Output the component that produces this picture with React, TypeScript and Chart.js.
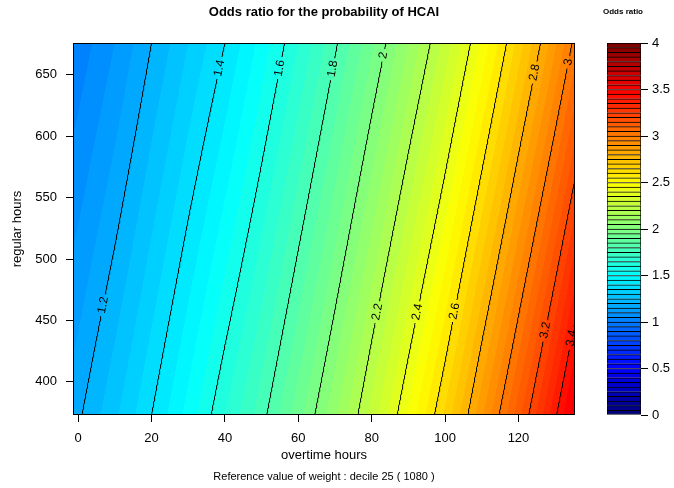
import React, { useEffect, useRef } from "react";
import { Chart, registerables } from "chart.js";

Chart.register(...registerables);

// ---------------- data ----------------
// grid of odds ratios: columns = overtime hours, rows = regular hours
const overtimeHours = [-1.4, 0, 10, 20, 30, 40, 50, 60, 70, 80, 90, 100, 110, 120, 130, 135.4];
const regularHours = [373, 676];
const oddsAtRegular373 = [1.18, 1.19, 1.29, 1.4, 1.52, 1.65, 1.78, 1.93, 2.09, 2.27, 2.46, 2.66, 2.89, 3.13, 3.39, 3.54];
const oddsAtRegular676 = [1.01, 1.02, 1.1, 1.2, 1.3, 1.4, 1.52, 1.65, 1.79, 1.94, 2.1, 2.27, 2.46, 2.67, 2.89, 3.02];
const contourLevels = [1.2, 1.4, 1.6, 1.8, 2, 2.2, 2.4, 2.6, 2.8, 3, 3.2, 3.4];
const overtimeTicks = [0, 20, 40, 60, 80, 100, 120];
const regularTicks = [400, 450, 500, 550, 600, 650];
const colorbarTicks = [0, 0.5, 1, 1.5, 2, 2.5, 3, 3.5, 4];
const breakMin = 0;
const breakMax = 4;
const breakStep = 0.05;

const titleText = "Odds ratio for the probability of HCAI";
const subText = "Reference value of weight : decile 25 ( 1080 )";
const xTitle = "overtime hours";
const yTitle = "regular hours";
const legendTitle = "Odds ratio";

// ---------------- styling / layout ----------------
const FONT = '"Liberation Sans", Arial, Helvetica, sans-serif';
const JET = ["#00007F", "#0000FF", "#007FFF", "#00FFFF", "#7FFF7F", "#FFFF00", "#FF7F00", "#FF0000", "#7F0000"];
// regular-hours position of each contour label along its line
const contourLabelAt: Record<string, number> = {
  "1.2": 462.5, "1.4": 655.5, "1.6": 655.5, "1.8": 655, "2": 666, "2.2": 457,
  "2.4": 457, "2.6": 457.5, "2.8": 652, "3": 660.5, "3.2": 442, "3.4": 435.5,
};

function hexRgb(h: string): number[] {
  return [parseInt(h.slice(1, 3), 16), parseInt(h.slice(3, 5), 16), parseInt(h.slice(5, 7), 16)];
}
const JET_RGB = JET.map(hexRgb);
function ramp(t: number): number[] {
  const n = JET_RGB.length;
  const p = Math.max(0, Math.min(1, t)) * (n - 1);
  const i = Math.min(n - 2, Math.floor(p));
  const f = p - i;
  return [0, 1, 2].map((k) => Math.round(JET_RGB[i][k] * (1 - f) + JET_RGB[i + 1][k] * f));
}
const nBands = Math.round((breakMax - breakMin) / breakStep);
const bandRgb = Array.from({ length: nBands }, (_, i) => ramp(i / (nBands - 1)));
const bandCss = bandRgb.map((c) => `rgb(${c[0]},${c[1]},${c[2]})`);

const lnRows = [oddsAtRegular373.map(Math.log), oddsAtRegular676.map(Math.log)];

function lnAlong(row: number[], x: number): number {
  const xs = overtimeHours;
  let j = 0;
  while (j < xs.length - 2 && x > xs[j + 1]) j++;
  const f = (x - xs[j]) / (xs[j + 1] - xs[j]);
  return row[j] * (1 - f) + row[j + 1] * f;
}
function rowWeight(y: number): number {
  return (y - regularHours[0]) / (regularHours[1] - regularHours[0]);
}
function contourX(level: number, y: number): number | null {
  const L = Math.log(level);
  const t = rowWeight(y);
  const xs = overtimeHours;
  const row = xs.map((_, j) => lnRows[0][j] * (1 - t) + lnRows[1][j] * t);
  for (let j = 0; j < xs.length - 1; j++) {
    if (row[j] <= L && row[j + 1] >= L && row[j + 1] !== row[j]) {
      return xs[j] + ((L - row[j]) / (row[j + 1] - row[j])) * (xs[j + 1] - xs[j]);
    }
  }
  return null;
}

const LABEL_FONT = `12px ${FONT}`;

const fieldPlugin = {
  id: "oddsField",
  beforeDatasetsDraw(chart: any) {
    const { ctx, chartArea } = chart;
    const xs = chart.scales.x;
    const ys = chart.scales.y;
    const left = Math.round(chartArea.left);
    const top = Math.round(chartArea.top);
    const w = Math.round(chartArea.right) - left;
    const h = Math.round(chartArea.bottom) - top;
    const off = document.createElement("canvas");
    off.width = w;
    off.height = h;
    const octx = off.getContext("2d")!;
    const img = octx.createImageData(w, h);
    const a0: number[] = [];
    const a1: number[] = [];
    for (let c = 0; c < w; c++) {
      const xv = xs.getValueForPixel(left + c + 0.5);
      a0.push(lnAlong(lnRows[0], xv));
      a1.push(lnAlong(lnRows[1], xv));
    }
    for (let r = 0; r < h; r++) {
      const t = rowWeight(ys.getValueForPixel(top + r + 0.5));
      for (let c = 0; c < w; c++) {
        const v = Math.exp(a0[c] * (1 - t) + a1[c] * t);
        let b = Math.floor((v - breakMin) / breakStep);
        b = Math.max(0, Math.min(nBands - 1, b));
        const col = bandRgb[b];
        const k = (r * w + c) * 4;
        img.data[k] = col[0];
        img.data[k + 1] = col[1];
        img.data[k + 2] = col[2];
        img.data[k + 3] = 255;
      }
    }
    octx.putImageData(img, 0, 0);
    ctx.save();
    ctx.drawImage(off, left, top);
    ctx.restore();
  },
  afterDatasetsDraw(chart: any) {
    const { ctx, chartArea } = chart;
    const xs = chart.scales.x;
    const ys = chart.scales.y;
    ctx.save();
    ctx.beginPath();
    ctx.rect(chartArea.left, chartArea.top, chartArea.right - chartArea.left, chartArea.bottom - chartArea.top);
    ctx.clip();
    ctx.font = LABEL_FONT;
    ctx.fillStyle = "#000";
    ctx.textAlign = "center";
    ctx.textBaseline = "middle";
    contourLevels.forEach((lvl) => {
      const ly = contourLabelAt[String(lvl)];
      if (ly == null) return;
      const lx = contourX(lvl, ly);
      if (lx == null) return;
      const px = xs.getPixelForValue(lx);
      const py = ys.getPixelForValue(ly);
      let ang = -79 * Math.PI / 180;
      const xa = contourX(lvl, ly - 3);
      const xb = contourX(lvl, ly + 3);
      if (xa != null && xb != null) {
        ang = Math.atan2(ys.getPixelForValue(ly + 3) - ys.getPixelForValue(ly - 3), xs.getPixelForValue(xb) - xs.getPixelForValue(xa));
      }
      ctx.save();
      ctx.translate(px, py);
      ctx.rotate(ang);
      ctx.fillText(String(lvl), 0, 0);
      ctx.restore();
    });
    ctx.restore();
    ctx.save();
    ctx.strokeStyle = "#000";
    ctx.lineWidth = 1;
    ctx.strokeRect(Math.round(chartArea.left) + 0.5, Math.round(chartArea.top) + 0.5,
      Math.round(chartArea.right) - Math.round(chartArea.left) - 1, Math.round(chartArea.bottom) - Math.round(chartArea.top) - 1);
    ctx.restore();
  },
  afterDraw(chart: any) {
    const { ctx } = chart;
    ctx.save();
    ctx.fillStyle = "#000";
    ctx.textAlign = "center";
    ctx.textBaseline = "middle";
    ctx.font = `bold 13px ${FONT}`;
    ctx.fillText(titleText, 324, 12);
    ctx.font = `11px ${FONT}`;
    ctx.fillText(subText, 324, 477);
    ctx.restore();
  },
};

const legendTextPlugin = {
  id: "legendText",
  afterDraw(chart: any) {
    const { ctx } = chart;
    ctx.save();
    ctx.fillStyle = "#000";
    ctx.textAlign = "center";
    ctx.textBaseline = "middle";
    ctx.font = `bold 8px ${FONT}`;
    ctx.fillText(legendTitle, 33, 12);
    ctx.restore();
  },
};

function gapColor(sctx: any, levelIndex: number): string {
  const lvl = contourLevels[levelIndex];
  const ly = contourLabelAt[String(lvl)];
  const ch = sctx.chart;
  if (ly == null || !ch) return "#000";
  const lx = contourX(lvl, ly);
  if (lx == null) return "#000";
  const cx = ch.scales.x.getPixelForValue(lx);
  const cy = ch.scales.y.getPixelForValue(ly);
  const mx = (sctx.p0.x + sctx.p1.x) / 2;
  const my = (sctx.p0.y + sctx.p1.y) / 2;
  ch.ctx.save();
  ch.ctx.font = LABEL_FONT;
  const half = ch.ctx.measureText(String(lvl)).width / 2 + 3;
  ch.ctx.restore();
  return Math.hypot(mx - cx, my - cy) < half ? "rgba(0,0,0,0)" : "#000";
}

export default function App() {
  const mainRef = useRef<HTMLCanvasElement>(null);
  const barRef = useRef<HTMLCanvasElement>(null);

  useEffect(() => {
    Chart.defaults.font.family = FONT;
    Chart.defaults.color = "#000";
    const y0 = regularHours[0];
    const y1 = regularHours[regularHours.length - 1];
    const samples = 320;
    const datasets = contourLevels.map((lvl, li) => {
      const pts: { x: number; y: number }[] = [];
      for (let s = 0; s <= samples; s++) {
        const y = y0 + ((y1 - y0) * s) / samples;
        const x = contourX(lvl, y);
        if (x != null) pts.push({ x, y });
      }
      return {
        type: "line" as const,
        label: String(lvl),
        data: pts,
        showLine: true,
        borderColor: "#000",
        borderWidth: 1,
        pointRadius: 0,
        tension: 0,
        segment: { borderColor: (sctx: any) => gapColor(sctx, li) },
      };
    });

    const main = new Chart(mainRef.current!, {
      type: "scatter",
      data: { datasets: datasets as any },
      options: {
        animation: false,
        responsive: false,
        devicePixelRatio: 1,
        events: [],
        layout: { padding: { left: 0, right: 73, top: 43, bottom: 0 } },
        plugins: { legend: { display: false }, tooltip: { enabled: false }, title: { display: false } },
        scales: {
          x: {
            type: "linear",
            min: overtimeHours[0],
            max: overtimeHours[overtimeHours.length - 1],
            afterBuildTicks: (s: any) => { s.ticks = overtimeTicks.map((v) => ({ value: v })); },
            afterFit: (s: any) => { s.height = 73; },
            ticks: { font: { size: 13 }, padding: 9, color: "#000", maxRotation: 0, autoSkip: false, callback: (v: any) => String(v) },
            grid: { drawOnChartArea: false, drawTicks: true, tickLength: 7, color: "#000", lineWidth: 1 },
            border: { display: false },
            title: { display: true, text: xTitle, font: { size: 13 }, color: "#000", padding: { top: 0, bottom: 25 } },
          },
          y: {
            type: "linear",
            min: y0,
            max: y1,
            afterBuildTicks: (s: any) => { s.ticks = regularTicks.map((v) => ({ value: v })); },
            afterFit: (s: any) => { s.width = 73; },
            ticks: { font: { size: 13 }, padding: 9, color: "#000", autoSkip: false, callback: (v: any) => String(v) },
            grid: { drawOnChartArea: false, drawTicks: true, tickLength: 7, color: "#000", lineWidth: 1 },
            border: { display: false },
            title: { display: true, text: yTitle, font: { size: 13 }, color: "#000", padding: { top: 10, bottom: 0 } },
          },
        },
      },
      plugins: [fieldPlugin],
    });

    const barSets = bandCss.map((col, i) => ({
      label: String(i),
      data: [[breakMin + i * breakStep, breakMin + (i + 1) * breakStep]],
      backgroundColor: col,
      borderColor: "#000",
      borderWidth: 1,
      borderSkipped: i === 0 ? false : "bottom",
      grouped: false,
      barPercentage: 1,
      categoryPercentage: 1,
    }));

    const bar = new Chart(barRef.current!, {
      type: "bar",
      data: { labels: [legendTitle], datasets: barSets as any },
      options: {
        animation: false,
        responsive: false,
        devicePixelRatio: 1,
        events: [],
        layout: { padding: { left: 17, right: 0, top: 43, bottom: 73 } },
        plugins: { legend: { display: false }, tooltip: { enabled: false } },
        scales: {
          x: { display: false },
          y: {
            position: "right",
            min: breakMin,
            max: breakMax,
            afterBuildTicks: (s: any) => { s.ticks = colorbarTicks.map((v) => ({ value: v })); },
            afterFit: (s: any) => { s.width = 33; },
            ticks: { font: { size: 13 }, padding: 4, color: "#000", autoSkip: false, callback: (v: any) => String(v) },
            grid: { drawOnChartArea: false, drawTicks: true, tickLength: 7, color: "#000", lineWidth: 1 },
            border: { display: false },
          },
        },
      },
      plugins: [legendTextPlugin],
    });

    return () => {
      main.destroy();
      bar.destroy();
    };
  }, []);

  return (
    <div style={{ position: "fixed", left: 0, top: 0, width: 674, height: 488, background: "#fff", overflow: "hidden" }}>
      <canvas ref={mainRef} width={648} height={488} style={{ position: "absolute", left: 0, top: 0 }} />
      <canvas ref={barRef} width={84} height={488} style={{ position: "absolute", left: 590, top: 0 }} />
    </div>
  );
}
